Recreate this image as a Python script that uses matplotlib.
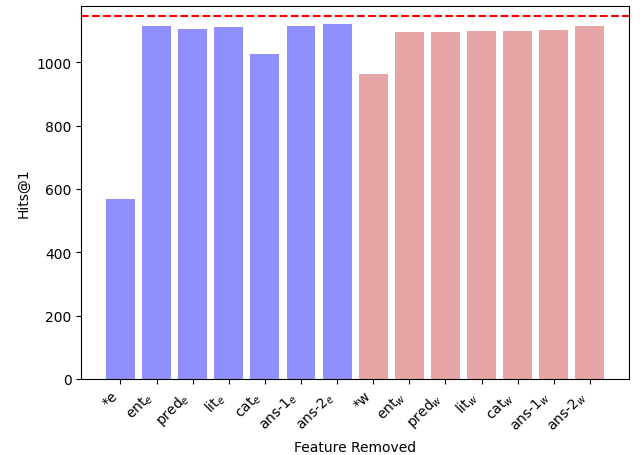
import matplotlib
matplotlib.use('Agg')
import matplotlib.pyplot as plt

labels = ['*e', 'ent$_e$', 'pred$_e$', 'lit$_e$', 'cat$_e$', 'ans-1$_e$', 'ans-2$_e$',
          '*w', 'ent$_w$', 'pred$_w$', 'lit$_w$', 'cat$_w$', 'ans-1$_w$', 'ans-2$_w$']
hits = [567, 1113, 1104, 1110, 1025, 1113, 1120,
        963, 1095, 1095, 1098, 1098, 1101, 1113]
groups = ['e'] * 7 + ['w'] * 7
baseline = 1147

colors = {'e': '#8f8ffd', 'w': '#e6a6a5'}

fig, ax = plt.subplots(figsize=(6.44, 4.56), dpi=100)
ax.bar(range(len(hits)), hits, color=[colors[g] for g in groups])
ax.axhline(baseline, color='red', linestyle='--', linewidth=1.5)
ax.set_ylim(0, 1178)
ax.set_xticks(range(len(labels)))
ax.set_xticklabels(labels, rotation=45, ha='right')
ax.set_xlabel('Feature Removed')
ax.set_ylabel('Hits@1')
plt.subplots_adjust(left=0.126, right=0.977, top=0.985, bottom=0.167)
plt.savefig('out.png')
